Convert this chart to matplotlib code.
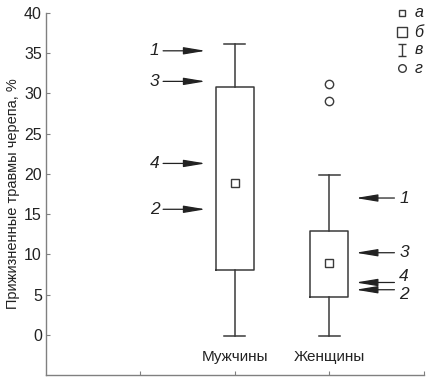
import matplotlib
matplotlib.use('Agg')
import matplotlib.pyplot as plt
from matplotlib.path import Path

plt.rcParams['font.family'] = ['Liberation Sans', 'DejaVu Sans']

groups = ['Мужчины', 'Женщины']
positions = [1, 2]
q1 = [8.0, 4.7]
q3 = [30.8, 12.9]
whis_lo = [-0.2, -0.2]
whis_hi = [36.1, 19.9]
centers = [18.9, 8.9]
outliers = [[], [31.2, 29.0]]

# arrow labels: (label, y of arrow) and (label, y of arrow, y of label)
male_marks = [('1', 35.3), ('3', 31.5), ('4', 21.3), ('2', 15.6)]
female_marks = [('1', 17.0, 17.0), ('3', 10.2, 10.2), ('4', 6.5, 7.3), ('2', 5.6, 5.0)]

legend_labels = ['а', 'б', 'в', 'г']

fig = plt.figure(figsize=(4.28, 3.88), dpi=100)
ax = fig.add_axes([0.1075, 0.0335, 0.8825, 0.933])

stats = []
for i in range(len(groups)):
    stats.append({'med': centers[i], 'mean': centers[i], 'q1': q1[i], 'q3': q3[i],
                  'whislo': whis_lo[i], 'whishi': whis_hi[i], 'fliers': outliers[i]})

col = '#3a3a3a'
ax.bxp(stats, positions=positions, widths=0.4, showmeans=True, patch_artist=False,
       boxprops=dict(color=col, linewidth=1.1),
       whiskerprops=dict(color=col, linewidth=1.1),
       capprops=dict(color=col, linewidth=1.1),
       capwidths=0.22,
       medianprops=dict(visible=False),
       meanprops=dict(marker='s', markersize=6, markerfacecolor='white',
                      markeredgecolor=col, markeredgewidth=1.0),
       flierprops=dict(marker='o', markersize=6, markerfacecolor='white',
                       markeredgecolor=col, markeredgewidth=1.0))

ax.set_xlim(-1, 3)
ax.set_ylim(-5, 40)
ax.set_yticks(range(0, 41, 5))
ax.set_xticks([0, 1, 2, 3])
ax.set_xticklabels([])
ax.tick_params(axis='y', direction='in', length=3, width=0.8, color='#808080',
               labelsize=11.5, pad=3, labelcolor='#222222')
ax.tick_params(axis='x', direction='in', length=3, width=0.8, color='#808080')
for s in ['top', 'right']:
    ax.spines[s].set_visible(False)
for s in ['left', 'bottom']:
    ax.spines[s].set_color('#808080')
    ax.spines[s].set_linewidth(1.0)

for i, g in enumerate(groups):
    ax.text(positions[i], -2.8, g, ha='center', va='center', fontsize=11, color='#222222')

ax.set_ylabel('Прижизненные травмы черепа, %', fontsize=10.5, color='#222222', labelpad=3)

arrow = dict(arrowstyle='-|>,head_length=1.2,head_width=0.2', color='#222222',
             lw=0.9, mutation_scale=11, shrinkA=0, shrinkB=0)
for lab, y in male_marks:
    ax.annotate('', xy=(0.69, y), xytext=(0.24, y), arrowprops=arrow)
    ax.text(0.2, y, lab, ha='right', va='center', fontsize=12.5, style='italic',
            color='#222222')
for lab, y, ly in female_marks:
    ax.annotate('', xy=(2.28, y), xytext=(2.69, y), arrowprops=arrow)
    ax.text(2.74, ly, lab, ha='left', va='center', fontsize=12.5, style='italic',
            color='#222222')

# legend glyphs
whisk = Path([(-0.6, -1), (0.6, -1), (0, -1), (0, 1), (-0.6, 1), (0.6, 1)],
             [Path.MOVETO, Path.LINETO, Path.MOVETO, Path.LINETO, Path.MOVETO, Path.LINETO])
leg_markers = [('s', 4.5), ('s', 7.5), (whisk, 9), ('o', 5.5)]
leg_y = [1.0, 0.9475, 0.898, 0.848]
for (m, ms), y, lab in zip(leg_markers, leg_y, legend_labels):
    ax.plot([0.942], [y], transform=ax.transAxes, marker=m, markersize=ms,
            markerfacecolor='white', markeredgecolor=col, markeredgewidth=1.0,
            linestyle='none', clip_on=False)
    ax.text(0.976, y, lab, transform=ax.transAxes, ha='left', va='center',
            fontsize=11.5, style='italic', color='#222222')

fig.savefig('out.png', dpi=100)
